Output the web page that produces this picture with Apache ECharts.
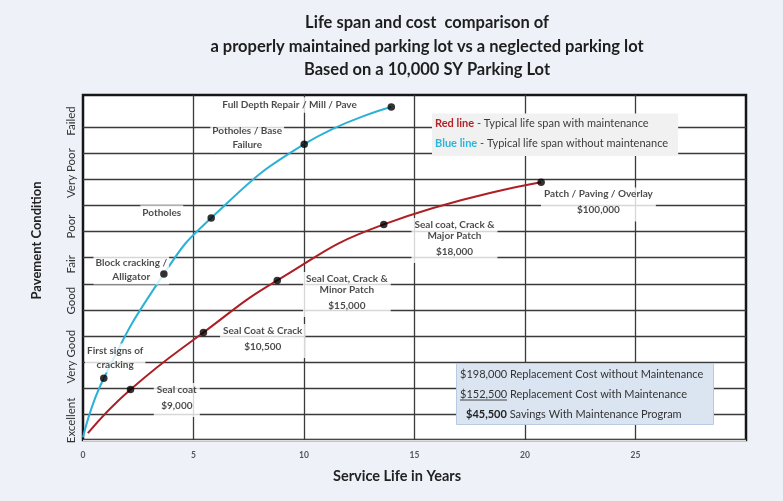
<!DOCTYPE html>
<html>
<head>
<meta charset="utf-8">
<script src="https://cdn.jsdelivr.net/npm/echarts@6/dist/echarts.min.js"></script>
<style>
html,body{margin:0;padding:0;background:#eef2f8;}
#chart{width:783px;height:501px;}
</style>
</head>
<body>
<div id="chart"></div>
<script>
// ---------- data ----------
const titleLines = [
  'Life span and cost  comparison of',
  'a properly maintained parking lot vs a neglected parking lot',
  'Based on a 10,000 SY Parking Lot'
];
const xAxisTitle = 'Service Life in Years';
const yAxisTitle = 'Pavement Condition';

const xTickValues = [0, 5, 10, 15, 20, 25];
const conditionLabels = ['Excellent', 'Very Good', 'Good', 'Fair', 'Poor', 'Very Poor', 'Failed'];
const conditionValues = [0.75, 3.2, 5.35, 6.75, 8.2, 10.25, 12.25];

// Blue line: without maintenance
const blueStart = [0, 0.1];
const blueYears = [0.94, 3.66, 5.80, 10.01, 13.95];
const blueCondition = [2.37, 6.38, 8.53, 11.36, 12.79];
const blueNotes = ['First signs of\ncracking', 'Block cracking /\nAlligator', 'Potholes', 'Potholes / Base\nFailure', 'Full Depth Repair / Mill / Pave'];

// Red line: with maintenance
const redStart = [0.22, 0.26];
const redYears = [2.15, 5.45, 8.79, 13.61, 20.73];
const redCondition = [1.94, 4.13, 6.13, 8.28, 9.90];
const redNotes = ['Seal coat', 'Seal Coat & Crack', 'Seal Coat, Crack &\nMinor Patch', 'Seal coat, Crack &\nMajor Patch', 'Patch / Paving / Overlay'];
const redCosts = ['$9,000', '$10,500', '$15,000', '$18,000', '$100,000'];

const legendNames = ['Red line', 'Blue line'];
const legendTexts = [' - Typical life span with maintenance', ' - Typical life span without maintenance'];

const costValues = ['$198,000', '$152,500', '$45,500'];
const costTexts = ['Replacement Cost without Maintenance', 'Replacement Cost with Maintenance', 'Savings With Maintenance Program'];

// ---------- layout (label offsets in px, relative to each dot) ----------
const blueNoteOffsets = [[11.4, -20.4], [-32.6, -4], [-49.4, -5], [-57, -6.5], [-101.7, -2]];
const redNoteOffsets = [[46.3, 10.4], [59.3, 8.5], [69.6, 14.1], [70.7, 16.2], [57.3, 22.3]];

const FONT = 'Lato, "Open Sans", sans-serif';
const BLUE = '#2bb1d7';
const RED = '#ad1f24';

const zip = (xs, ys) => xs.map((x, i) => [x, ys[i]]);

function noteText(name, cost) {
  const lines = name.split('\n').map(s => '{n|' + s + '}');
  if (cost) lines.push('{p|' + cost + '}');
  return lines.join('\n');
}

const splitColors = ['#dddddd'];
for (let i = 1; i <= 12; i++) splitColors.push('#3a3a3a');
splitColors.push('rgba(0,0,0,0)', 'rgba(0,0,0,0)');

const noteStyle = {fontFamily: FONT, fontWeight: 'bold', fontSize: 10, color: '#1c1c1c', align: 'center'};

const chart = echarts.init(document.getElementById('chart'), null, {renderer: 'canvas'});

const option = {
  backgroundColor: '#eef2f8',
  animation: false,
  title: [
    {
      text: titleLines.join('\n'),
      left: 422, top: 6, textAlign: 'center',
      textStyle: {fontFamily: FONT, fontWeight: 'bold', fontSize: 16.5, lineHeight: 23.5, color: '#1e1e1e'}
    },
    {
      text: legendNames.map((n, i) => '{' + (i === 0 ? 'r' : 'b') + '|' + n + '}{t|' + legendTexts[i] + '}').join('\n'),
      left: 432, top: 113.5,
      backgroundColor: '#f1f1f1',
      padding: [0, 10, 2.5, 3],
      textStyle: {
        lineHeight: 20, fontWeight: 'normal',
        rich: {
          r: {fontFamily: FONT, fontWeight: 'bold', fontSize: 11, color: '#b0232a', lineHeight: 20},
          b: {fontFamily: FONT, fontWeight: 'bold', fontSize: 11, color: '#2bb5da', lineHeight: 20},
          t: {fontFamily: FONT, fontWeight: 'normal', fontSize: 11, color: '#3c3c3c', lineHeight: 20}
        }
      }
    },
    {
      text: costValues.map((v, i) => '{' + (i === 2 ? 'vb' : 'v') + '|' + v + '}{t| ' + costTexts[i] + '}').join('\n'),
      left: 456, top: 363,
      backgroundColor: '#dbe5f1',
      borderColor: '#b9cbe3', borderWidth: 1,
      padding: [1, 10, 1, 4],
      textStyle: {
        lineHeight: 20, fontWeight: 'normal',
        rich: {
          v: {fontFamily: FONT, fontWeight: 'normal', fontSize: 11, color: '#333', lineHeight: 20},
          vb: {fontFamily: FONT, fontSize: 11, fontWeight: 'bold', color: '#222', lineHeight: 20, padding: [0, 0, 0, 6]},
          t: {fontFamily: FONT, fontWeight: 'normal', fontSize: 11, color: '#333', lineHeight: 20}
        }
      }
    }
  ],
  graphic: [
    {type: 'line', shape: {x1: 460, y1: 400, x2: 507, y2: 400}, style: {stroke: '#444', lineWidth: 1}, z: 100}
  ],
  grid: {
    left: 83, right: 37, top: 95, bottom: 61,
    show: true, backgroundColor: '#ffffff', borderColor: '#161616', borderWidth: 2.5
  },
  xAxis: {
    type: 'value', min: 0, max: 30, interval: 5,
    name: xAxisTitle, nameLocation: 'middle', nameGap: 29,
    nameTextStyle: {fontFamily: FONT, fontWeight: 'bold', fontSize: 14.5, color: '#222', padding: [0, 35, 0, 0]},
    axisLine: {show: false}, axisTick: {show: false},
    axisLabel: {customValues: xTickValues, fontFamily: FONT, fontWeight: 'bold', fontSize: 8.5, color: '#555', margin: 11},
    splitLine: {lineStyle: {color: ['rgba(0,0,0,0)', '#3a3a3a', '#3a3a3a', '#3a3a3a', '#3a3a3a', '#3a3a3a', 'rgba(0,0,0,0)'], width: 1.3}}
  },
  yAxis: {
    type: 'value', min: 0, max: 13.25, interval: 1,
    name: yAxisTitle, nameLocation: 'middle', nameGap: 40,
    nameTextStyle: {fontFamily: FONT, fontWeight: 'bold', fontSize: 13, color: '#222', padding: [0, 0, 0, 54]},
    axisLine: {show: false}, axisTick: {show: false},
    axisLabel: {
      customValues: conditionValues, rotate: 90, margin: 6,
      fontFamily: FONT, fontSize: 11.5, color: '#333',
      formatter: v => {
        const i = conditionValues.findIndex(c => Math.abs(c - v) < 1e-6);
        return i >= 0 ? conditionLabels[i] : '';
      }
    },
    splitLine: {lineStyle: {color: splitColors, width: 1.3}}
  },
  series: [
    {
      name: 'Blue line', type: 'line', z: 2,
      data: [blueStart].concat(zip(blueYears, blueCondition)),
      smooth: true, showSymbol: false,
      lineStyle: {color: BLUE, width: 2}
    },
    {
      name: 'Red line', type: 'line', z: 2,
      data: [redStart].concat(zip(redYears, redCondition)),
      smooth: true, showSymbol: false,
      lineStyle: {color: RED, width: 2}
    },
    {
      name: 'Blue notes', type: 'scatter', z: 3,
      data: zip(blueYears, blueCondition).map((v, i) => ({value: v, label: {offset: blueNoteOffsets[i]}})),
      symbolSize: 1, itemStyle: {color: 'rgba(0,0,0,0)'},
      label: {
        show: true, position: 'inside', backgroundColor: '#ffffff', padding: [1, 2],
        formatter: p => noteText(blueNotes[p.dataIndex]),
        rich: {n: Object.assign({lineHeight: 13.5}, noteStyle)}
      }
    },
    {
      name: 'Red notes', type: 'scatter', z: 3,
      data: zip(redYears, redCondition).map((v, i) => ({value: v, label: {offset: redNoteOffsets[i]}})),
      symbolSize: 1, itemStyle: {color: 'rgba(0,0,0,0)'},
      label: {
        show: true, position: 'inside', backgroundColor: '#ffffff', padding: [1, 3],
        formatter: p => noteText(redNotes[p.dataIndex], redCosts[p.dataIndex]),
        rich: {
          n: Object.assign({lineHeight: 11}, noteStyle),
          p: Object.assign({lineHeight: 21}, noteStyle)
        }
      }
    },
    {
      name: 'Blue milestones', type: 'scatter', z: 5,
      data: zip(blueYears, blueCondition),
      symbolSize: 7.5, itemStyle: {color: '#000'}
    },
    {
      name: 'Red milestones', type: 'scatter', z: 5,
      data: zip(redYears, redCondition),
      symbolSize: 7.5, itemStyle: {color: '#000'}
    }
  ]
};
chart.setOption(option);
</script>
</body>
</html>
